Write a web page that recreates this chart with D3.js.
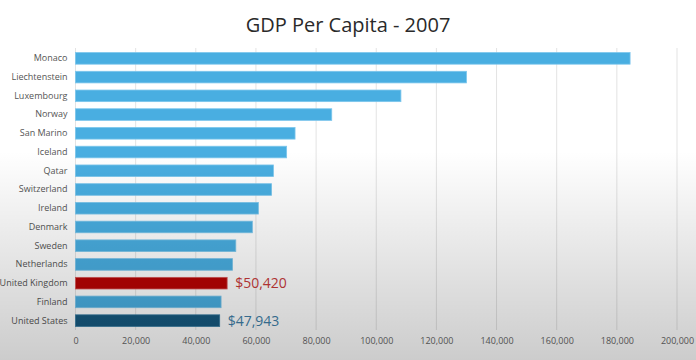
<!DOCTYPE html>
<html><head><meta charset="utf-8">
<script src="https://cdn.jsdelivr.net/npm/d3@7"></script>
<style>html,body{margin:0;padding:0;background:#fff;}svg{display:block;}</style>
</head><body>
<svg id="c" width="696" height="360"></svg>
<script>
const countries = ["Monaco","Liechtenstein","Luxembourg","Norway","San Marino","Iceland","Qatar","Switzerland","Ireland","Denmark","Sweden","Netherlands","United Kingdom","Finland","United States"];
const gdp = [184400,130000,108200,85200,73000,70200,65800,65200,60800,58800,53300,52200,50420,48400,47943];
const xTicks = [0,20000,40000,60000,80000,100000,120000,140000,160000,180000,200000];
const highlighted = {"United Kingdom":"$50,420","United States":"$47,943"};

const svg = d3.select("#c");
const W = 696, H = 360;
const defs = svg.append("defs");
const g1 = defs.append("linearGradient").attr("id","shade").attr("x1",0).attr("y1",0).attr("x2",0).attr("y2",1);
g1.append("stop").attr("offset","0.42").attr("stop-color","#000").attr("stop-opacity",0);
g1.append("stop").attr("offset","1").attr("stop-color","#000").attr("stop-opacity",0.2);

svg.append("rect").attr("width",W).attr("height",H).attr("fill","#fff");

const x = d3.scaleLinear().domain([0,200000]).range([75.5,677]);
const y = d3.scaleBand().domain(countries).range([49,330]).paddingInner(0.38).paddingOuter(0.19);

// gridlines
svg.append("g").selectAll("line").data(xTicks).join("line")
  .attr("x1",d=>x(d)).attr("x2",d=>x(d)).attr("y1",48).attr("y2",330)
  .attr("stroke","#e3e3e3").attr("stroke-width",1);

// x axis labels
const ax = svg.append("g").attr("transform","translate(0,330)")
  .call(d3.axisBottom(x).tickValues(xTicks).tickSize(0).tickPadding(8).tickFormat(d3.format(",")));
ax.select(".domain").remove();
ax.selectAll("text").attr("font-family","Open Sans, sans-serif").attr("font-size","9px").attr("fill","#666");

// y axis labels
const ay = svg.append("g").attr("transform","translate(75.5,0)")
  .call(d3.axisLeft(y).tickSize(0).tickPadding(8));
ay.select(".domain").remove();
ay.selectAll("text").attr("font-family","Open Sans, sans-serif").attr("font-size","9px").attr("fill","#555");

const fill = c => c==="United Kingdom" ? "#B80303" : c==="United States" ? "#175A80" : "#49AEE1";
const stroke = c => c==="United Kingdom" ? "#d65a5a" : c==="United States" ? "#3a7ea3" : "#7cc6ec";

const data = countries.map((c,i)=>({c, v:gdp[i]}));
svg.append("g").selectAll("rect").data(data).join("rect")
  .attr("x",x(0)).attr("y",d=>y(d.c)).attr("width",d=>x(d.v)-x(0)).attr("height",y.bandwidth())
  .attr("fill",d=>fill(d.c)).attr("stroke",d=>stroke(d.c)).attr("stroke-width",0.8);

svg.append("g").selectAll("text").data(data.filter(d=>highlighted[d.c])).join("text")
  .attr("x",d=>x(d.v)+8).attr("y",d=>y(d.c)+y.bandwidth()/2).attr("dy","0.36em")
  .attr("font-family","Open Sans, sans-serif").attr("font-size","14px")
  .attr("fill",d=>d.c==="United Kingdom" ? "#C73A3A" : "#3F7FA8")
  .text(d=>highlighted[d.c]);

svg.append("text").attr("x",348).attr("y",32).attr("text-anchor","middle")
  .attr("font-family","Open Sans, sans-serif").attr("font-size","20px").attr("fill","#2a2a2a")
  .text("GDP Per Capita - 2007");

svg.append("rect").attr("width",W).attr("height",H).attr("fill","url(#shade)").attr("pointer-events","none");
</script>
</body></html>
